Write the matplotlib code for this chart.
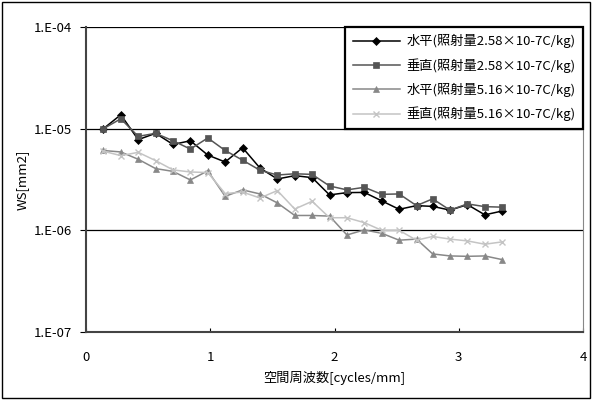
import matplotlib
matplotlib.use("Agg")
import matplotlib.pyplot as plt
import matplotlib.patches as patches
from matplotlib.ticker import FixedLocator, NullLocator

plt.rcParams['font.family'] = ['Noto Sans CJK JP', 'DejaVu Sans']

# spatial frequency [cycles/mm]
freq = [0.14, 0.28, 0.42, 0.56, 0.70, 0.84, 0.98, 1.12, 1.26, 1.40, 1.54, 1.68,
        1.82, 1.96, 2.10, 2.24, 2.38, 2.52, 2.66, 2.79, 2.93, 3.07, 3.21, 3.35]

h_258 = [1.0e-5, 1.37e-5, 7.8e-6, 9.0e-6, 7.0e-6, 7.6e-6, 5.5e-6, 4.7e-6, 6.5e-6, 4.1e-6,
         3.2e-6, 3.45e-6, 3.3e-6, 2.23e-6, 2.35e-6, 2.36e-6, 1.95e-6, 1.61e-6, 1.75e-6,
         1.72e-6, 1.58e-6, 1.79e-6, 1.42e-6, 1.55e-6]
v_258 = [1.0e-5, 1.25e-5, 8.4e-6, 9.0e-6, 7.6e-6, 6.3e-6, 8.1e-6, 6.1e-6, 4.9e-6, 3.9e-6,
         3.5e-6, 3.6e-6, 3.55e-6, 2.73e-6, 2.5e-6, 2.65e-6, 2.26e-6, 2.28e-6, 1.75e-6,
         2.04e-6, 1.58e-6, 1.82e-6, 1.71e-6, 1.69e-6]
h_516 = [6.1e-6, 5.9e-6, 5.0e-6, 4.05e-6, 3.8e-6, 3.13e-6, 3.85e-6, 2.16e-6, 2.5e-6, 2.28e-6,
         1.86e-6, 1.40e-6, 1.40e-6, 1.38e-6, 9.0e-7, 1.01e-6, 9.35e-7, 8.0e-7, 8.2e-7,
         5.86e-7, 5.6e-7, 5.55e-7, 5.6e-7, 5.15e-7]
v_516 = [6.0e-6, 5.43e-6, 5.85e-6, 4.85e-6, 3.93e-6, 3.75e-6, 3.7e-6, 2.3e-6, 2.38e-6, 2.08e-6,
         2.46e-6, 1.62e-6, 1.93e-6, 1.33e-6, 1.33e-6, 1.19e-6, 1.0e-6, 1.0e-6, 8.0e-7,
         8.7e-7, 8.2e-7, 7.87e-7, 7.3e-7, 7.7e-7]

labels = ["水平(照射量2.58×10-7C/kg)", "垂直(照射量2.58×10-7C/kg)",
          "水平(照射量5.16×10-7C/kg)", "垂直(照射量5.16×10-7C/kg)"]

y_ticks = [1e-7, 1e-6, 1e-5, 1e-4]
y_tick_labels = ["1.E-07", "1.E-06", "1.E-05", "1.E-04"]
x_ticks = [0, 1, 2, 3, 4]

fig = plt.figure(figsize=(5.92, 4.0), dpi=100)
ax = fig.add_axes([0.1453, 0.17, 0.8395, 0.7625])

styles = [
    (h_258, "#000000", "D", 4),
    (v_258, "#555555", "s", 5),
    (h_516, "#888888", "^", 5),
    (v_516, "#c4c4c4", "x", 5),
]
for (vals, col, mk, ms), lab in zip(styles, labels):
    ax.plot(freq, vals, color=col, marker=mk, markersize=ms, lw=1.1,
            markeredgewidth=1.0 if mk == "x" else 0.5, label=lab)

ax.set_yscale("log")
ax.set_ylim(1e-7, 1e-4)
ax.set_xlim(0, 4)
ax.yaxis.set_major_locator(FixedLocator(y_ticks))
ax.yaxis.set_minor_locator(NullLocator())
ax.set_yticklabels(y_tick_labels)
ax.set_xticks(x_ticks)
ax.tick_params(axis="y", direction="out", length=4, labelsize=9.5, pad=6)
ax.tick_params(axis="x", direction="in", length=3, labelsize=9.5, pad=14)
ax.grid(axis="y", color="black", lw=0.9)
ax.set_axisbelow(True)

for s in ["left", "bottom"]:
    ax.spines[s].set_color("#444444")
    ax.spines[s].set_linewidth(1.5)
ax.spines["right"].set_color("#888888")
ax.spines["top"].set_visible(False)

ax.set_xlabel("空間周波数[cycles/mm]", fontsize=9.5, labelpad=5)
ax.set_ylabel("WS[mm2]", fontsize=9.5, labelpad=4)

leg = ax.legend(loc="upper right", bbox_to_anchor=(1.0, 1.0), fontsize=9.5,
                frameon=True, fancybox=False, shadow=False, handlelength=3.6,
                handletextpad=0.5, borderaxespad=0.0, labelspacing=0.75, borderpad=0.55)
leg.get_frame().set_edgecolor("black")
leg.get_frame().set_linewidth(1.6)
leg.get_frame().set_alpha(1.0)

fig.patches.append(patches.Rectangle((0.003, 0.004), 0.993, 0.99, transform=fig.transFigure,
                                     fill=False, lw=1.0, edgecolor="black"))

fig.savefig("out.png", dpi=100)
